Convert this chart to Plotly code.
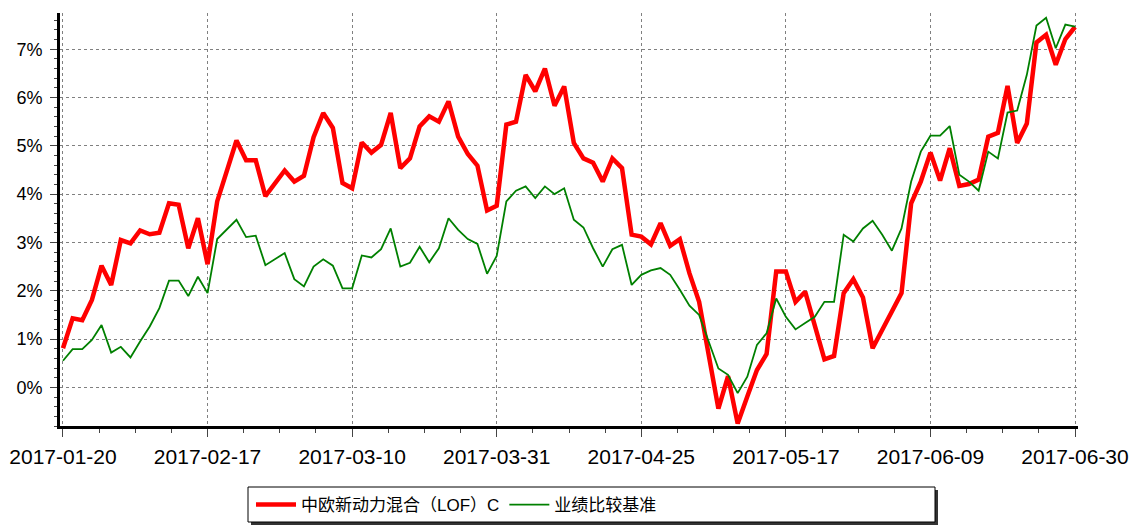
import plotly.graph_objects as go

# Trading days (2017), listed per month
jan_days = [20, 23, 24, 25, 26]
feb_days = [3, 6, 7, 8, 9, 10, 13, 14, 15, 16, 17, 20, 21, 22, 23, 24, 27, 28]
mar_days = [1, 2, 3, 6, 7, 8, 9, 10, 13, 14, 15, 16, 17, 20, 21, 22, 23, 24, 27, 28, 29, 30, 31]
apr_days = [5, 6, 7, 10, 11, 12, 13, 14, 17, 18, 19, 20, 21, 24, 25, 26, 27, 28]
may_days = [2, 3, 4, 5, 8, 9, 10, 11, 12, 15, 16, 17, 18, 19, 22, 23, 24, 25, 26, 31]
jun_days = [1, 2, 5, 6, 7, 8, 9, 12, 13, 14, 15, 16, 19, 20, 21, 22, 23, 26, 27, 28, 29, 30]

dates = []
for m, days in [(1, jan_days), (2, feb_days), (3, mar_days), (4, apr_days), (5, may_days), (6, jun_days)]:
    dates += [f"2017-{m:02d}-{d:02d}" for d in days]

tick_dates = ["2017-01-20", "2017-02-17", "2017-03-10", "2017-03-31",
              "2017-04-25", "2017-05-17", "2017-06-09", "2017-06-30"]

fund_name = "中欧新动力混合（LOF）C"
bench_name = "业绩比较基准"

fund_values = [
    0.81, 1.43, 1.39, 1.81, 2.52, 2.12, 3.05, 2.98, 3.25, 3.17,
    3.20, 3.81, 3.78, 2.88, 3.50, 2.55, 3.85, 4.47, 5.11, 4.70,
    4.70, 3.96, 4.23, 4.49, 4.26, 4.38, 5.18, 5.68, 5.37, 4.23,
    4.12, 5.07, 4.86, 5.02, 5.68, 4.54, 4.74, 5.40, 5.61, 5.50,
    5.92, 5.19, 4.83, 4.59, 3.66, 3.76, 5.44, 5.50, 6.47, 6.13,
    6.60, 5.83, 6.23, 5.06, 4.74, 4.65, 4.26, 4.74, 4.54, 3.16,
    3.12, 2.96, 3.40, 2.93, 3.07, 2.36, 1.77, 0.60, -0.44, 0.23,
    -0.75, -0.19, 0.36, 0.69, 2.40, 2.40, 1.77, 1.98, 1.28, 0.58,
    0.65, 1.95, 2.24, 1.86, 0.81, 1.19, 1.57, 1.95, 3.81, 4.26,
    4.86, 4.28, 4.95, 4.17, 4.21, 4.30, 5.19, 5.27, 6.24, 5.06,
    5.46, 7.14, 7.30, 6.68, 7.21, 7.46,
]

bench_values = [
    0.55, 0.79, 0.79, 0.98, 1.29, 0.72, 0.84, 0.62, 0.95, 1.26,
    1.64, 2.21, 2.21, 1.89, 2.29, 1.95, 3.07, 3.28, 3.47, 3.11,
    3.14, 2.53, 2.66, 2.78, 2.24, 2.09, 2.50, 2.65, 2.52, 2.05,
    2.05, 2.73, 2.69, 2.86, 3.29, 2.50, 2.58, 2.91, 2.59, 2.88,
    3.50, 3.26, 3.07, 2.97, 2.35, 2.72, 3.85, 4.07, 4.16, 3.92,
    4.16, 4.00, 4.12, 3.47, 3.31, 2.88, 2.50, 2.86, 2.95, 2.12,
    2.33, 2.42, 2.47, 2.33, 2.02, 1.69, 1.50, 0.95, 0.39, 0.26,
    -0.12, 0.22, 0.88, 1.12, 1.84, 1.46, 1.20, 1.33, 1.46, 1.77,
    1.77, 3.16, 3.02, 3.29, 3.45, 3.16, 2.83, 3.29, 4.26, 4.88,
    5.21, 5.21, 5.41, 4.40, 4.26, 4.07, 4.88, 4.74, 5.69, 5.73,
    6.47, 7.49, 7.65, 7.02, 7.51, 7.47,
]

y_ticks = [0, 1, 2, 3, 4, 5, 6, 7]
y_tick_text = [f"{v}%" for v in y_ticks]

x_idx = list(range(len(dates)))
tick_idx = [dates.index(d) for d in tick_dates]

fig = go.Figure()
fig.add_trace(go.Scatter(
    x=x_idx, y=fund_values, customdata=dates, name=fund_name, mode="lines",
    line=dict(color="#ff0000", width=4.5),
    hovertemplate="%{customdata}: %{y:.2f}%<extra></extra>",
))
fig.add_trace(go.Scatter(
    x=x_idx, y=bench_values, customdata=dates, name=bench_name, mode="lines",
    line=dict(color="#008000", width=1.8),
    hovertemplate="%{customdata}: %{y:.2f}%<extra></extra>",
))

W, H = 1131, 525
ml, mr, mt, mb = 60, 53, 13, 99
pw, ph = W - ml - mr, H - mt - mb


def px_x(p):
    return (p - ml) / pw


def px_y(p):
    return (H - mb - p) / ph


# legend frame with drop shadow
fig.add_shape(type="rect", xref="paper", yref="paper",
              x0=px_x(251), x1=px_x(938), y0=px_y(490), y1=px_y(525),
              line=dict(width=0), fillcolor="#333333", layer="below")
fig.add_shape(type="rect", xref="paper", yref="paper",
              x0=px_x(248), x1=px_x(935), y0=px_y(487), y1=px_y(522),
              line=dict(width=1, color="black"), fillcolor="white", layer="below")

fig.update_layout(
    width=W, height=H,
    margin=dict(l=ml, r=mr, t=mt, b=mb, pad=0, autoexpand=False),
    paper_bgcolor="white", plot_bgcolor="rgba(0,0,0,0)",
    font=dict(family="Liberation Sans, Arial, sans-serif", color="black", size=18),
    showlegend=True,
    legend=dict(
        orientation="h", xref="container", yref="container",
        x=251 / W, xanchor="left", y=1 - 505 / H, yanchor="middle",
        font=dict(family="Liberation Sans, Noto Sans CJK SC, sans-serif", size=17, color="black"),
        borderwidth=0, bgcolor="rgba(0,0,0,0)",
        itemwidth=40, tracegroupgap=0,
    ),
    xaxis=dict(
        range=[-0.31, 105.31], automargin=False,
        tickvals=tick_idx, ticktext=tick_dates,
        ticks="outside", ticklen=8, tickcolor="#444", tickwidth=1,
        tickfont=dict(size=21),
        ticklabelstandoff=2,
        showline=True, linecolor="black", linewidth=3,
        showgrid=True, gridcolor="#808080", gridwidth=1, griddash="dot",
        zeroline=False,
        minor=dict(ticks="outside", ticklen=4, tickcolor="#444", tick0=0, dtick=3.75, showgrid=False),
    ),
    yaxis=dict(
        range=[-0.80, 7.75], automargin=False,
        tickvals=y_ticks, ticktext=y_tick_text,
        ticks="outside", ticklen=7, tickcolor="#444", tickwidth=1,
        tickfont=dict(size=18),
        ticklabelstandoff=4,
        showline=True, linecolor="black", linewidth=3,
        showgrid=True, gridcolor="#808080", gridwidth=1, griddash="dot",
        zeroline=False,
        minor=dict(ticks="outside", ticklen=3, tickcolor="#444", tick0=0, dtick=0.2, showgrid=False),
    ),
)

fig.write_html("out.html", config={"displayModeBar": False},
               post_script="document.body.style.margin='0';")
